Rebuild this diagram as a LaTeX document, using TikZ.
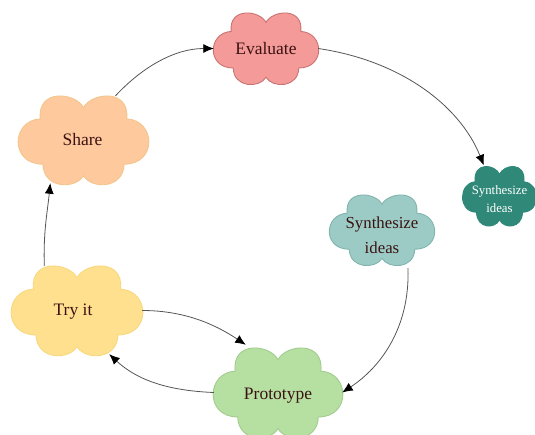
\documentclass[tikz,border=0pt]{standalone}
\usepackage{fontspec}
\setmainfont{Liberation Serif}
\usetikzlibrary{arrows.meta,calc}
\definecolor{inkdark}{HTML}{3A1212}
\definecolor{linegray}{HTML}{555555}
\definecolor{evalfill}{HTML}{F49A98}
\definecolor{evaldraw}{HTML}{C87472}
\definecolor{sharefill}{HTML}{FFC99E}
\definecolor{sharedraw}{HTML}{F2C68C}
\definecolor{tryfill}{HTML}{FFE08E}
\definecolor{trydraw}{HTML}{F6D97F}
\definecolor{protofill}{HTML}{B6E0A2}
\definecolor{protodraw}{HTML}{A3CB8E}
\definecolor{lightfill}{HTML}{9CCBC5}
\definecolor{lightdraw}{HTML}{82B4AE}
\definecolor{darkfill}{HTML}{2F8878}
\tikzset{
  x=1pt,y=-1pt,
  cloudlabel/.style={inner sep=0pt,align=center,text=inkdark,font=\fontsize{17.5}{24}\selectfont},
  link/.style={draw=linegray,line width=0.8pt,-{Latex[length=10.5pt,width=9pt,black]}},
}
\newcommand{\lowered}[2]{\raisebox{-#1}[\height][\depth]{#2}}
% cx cy hw hh fill draw name text labelstyle
\newcommand{\cloudnode}[9]{%
  \begin{scope}[shift={(#1,#2)},x=#3pt,y=-#4pt]
    \path[fill=#5,draw=#6,line width=0.9pt]
      (0,-.735) .. controls (-.12,-1.08) and (-.72,-1.18) .. (-.67,-.48)
      .. controls (-1.12,-.45) and (-1.15,.55) .. (-.63,.55)
      .. controls (-.62,1.12) and (-.12,1.12) .. (0,.81)
      .. controls (.12,1.12) and (.62,1.12) .. (.63,.55)
      .. controls (1.15,.55) and (1.12,-.45) .. (.67,-.48)
      .. controls (.72,-1.18) and (.12,-1.08) .. (0,-.735) -- cycle;
  \end{scope}
  \node[cloudlabel,minimum width=2*#3pt,minimum height=2*#4pt,#9] (#7) at (#1,#2) {#8};%
}
\begin{document}
\begin{tikzpicture}
\useasboundingbox (0,0) rectangle (535,434);
\clip (0,0) rectangle (535,434);
\cloudnode{266}{48.5}{52}{35.5}{evalfill}{evaldraw}{evaluate}{Evaluate}{}
\cloudnode{83.5}{140}{64.5}{44}{sharefill}{sharedraw}{share}{\hspace*{-2pt}Share}{}
\cloudnode{77}{310.5}{65}{44.5}{tryfill}{trydraw}{tryit}{\hspace*{-8pt}\lowered{1pt}{Try it}}{}
\cloudnode{278}{392.5}{64}{44.5}{protofill}{protodraw}{prototype}{\lowered{3pt}{Prototype}}{}
\cloudnode{382}{230}{52}{35}{lightfill}{lightdraw}{synthlight}{\lowered{5pt}{Synthesize}\\\lowered{6pt}{ideas}}{font=\fontsize{16.8}{24}\selectfont}
\cloudnode{499.5}{196}{36.5}{29.5}{darkfill}{darkfill}{synthdark}{\lowered{4pt}{Synthesize}\\\lowered{3pt}{ideas}}{text=white,font=\fontsize{12.8}{19}\selectfont}

\draw[link] ($(tryit.north west)+(32.5,0)$)
  .. controls +(-1,-35) and +(-3,30) .. ($(share.south west)+(31.5,-1)$);
\draw[link] ($(share.north)+(32,0)$) .. controls +(28,-30) and +(-38,0) .. (evaluate.west);
\draw[link] (evaluate.east) .. controls +(82,12) and +(-24,-60) .. ($(synthdark.north west)+(21,-1)$);
\draw[link] ($(synthlight.south)+(26,3)$) .. controls +(2,60) and +(38,-25) .. (prototype.east);
\draw[link] (tryit.east) .. controls +(43,0) and +(-30,-20) .. ($(prototype.north west)+(32,-3)$);
\draw[link] (prototype.west) .. controls +(-50,-2) and +(26,24) .. ($(tryit.south east)+(-33,-1)$);
\end{tikzpicture}
\end{document}
